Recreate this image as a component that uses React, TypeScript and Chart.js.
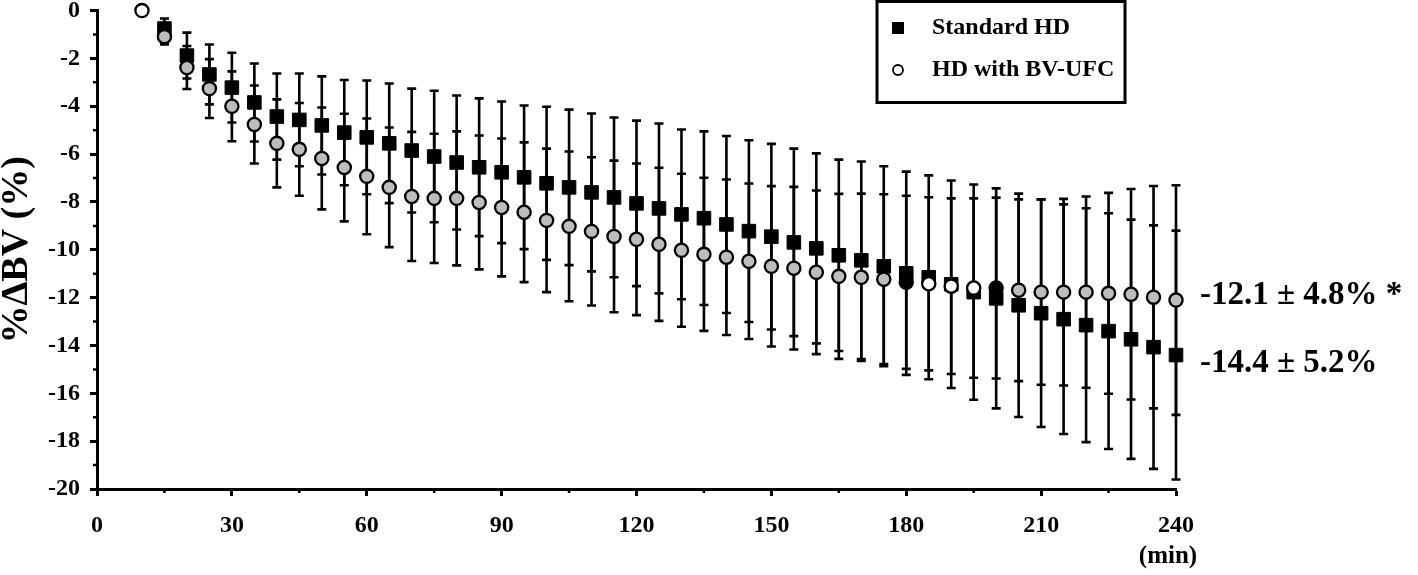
import React, { useEffect, useRef } from "react";
import { Chart, registerables } from "chart.js";

Chart.register(...registerables);

// ---- data ----
const timesStandard = [15, 20, 25, 30, 35, 40, 45, 50, 55, 60, 65, 70, 75, 80, 85, 90, 95, 100, 105, 110, 115, 120, 125, 130, 135, 140, 145, 150, 155, 160, 165, 170, 175, 180, 185, 190, 195, 200, 205, 210, 215, 220, 225, 230, 235, 240];
const meanStandard = [-0.75, -1.88, -2.67, -3.22, -3.84, -4.43, -4.57, -4.8, -5.1, -5.3, -5.55, -5.85, -6.1, -6.35, -6.55, -6.76, -6.97, -7.22, -7.39, -7.6, -7.81, -8.06, -8.27, -8.52, -8.68, -8.94, -9.22, -9.45, -9.69, -9.94, -10.23, -10.44, -10.69, -10.98, -11.15, -11.44, -11.77, -12.03, -12.32, -12.65, -12.9, -13.15, -13.4, -13.74, -14.07, -14.4];
const sdStandard = [0.42, 0.96, 1.25, 1.46, 1.63, 1.8, 1.94, 2.05, 2.2, 2.38, 2.5, 2.59, 2.75, 2.8, 2.88, 2.96, 3.0, 3.2, 3.25, 3.3, 3.34, 3.46, 3.55, 3.55, 3.63, 3.7, 3.8, 3.88, 3.92, 3.97, 4.0, 4.13, 4.18, 4.25, 4.26, 4.34, 4.5, 4.6, 4.67, 4.76, 4.8, 4.89, 4.93, 5.0, 5.09, 5.2];

const timesBVUFC = [10, 15, 20, 25, 30, 35, 40, 45, 50, 55, 60, 65, 70, 75, 80, 85, 90, 95, 100, 105, 110, 115, 120, 125, 130, 135, 140, 145, 150, 155, 160, 165, 170, 175, 180, 185, 190, 195, 200, 205, 210, 215, 220, 225, 230, 235, 240];
const meanBVUFC = [0, -1.09, -2.38, -3.26, -4.0, -4.76, -5.55, -5.8, -6.18, -6.56, -6.93, -7.39, -7.77, -7.85, -7.85, -8.02, -8.23, -8.43, -8.77, -9.02, -9.23, -9.44, -9.56, -9.77, -10.02, -10.19, -10.31, -10.48, -10.69, -10.77, -10.94, -11.11, -11.15, -11.23, -11.36, -11.42, -11.52, -11.6, -11.6, -11.69, -11.77, -11.77, -11.77, -11.82, -11.86, -11.98, -12.1];
const sdBVUFC = [0, 0.32, 0.9, 1.23, 1.46, 1.63, 1.84, 1.94, 2.13, 2.25, 2.42, 2.5, 2.7, 2.7, 2.8, 2.8, 2.88, 2.92, 3.0, 3.13, 3.1, 3.17, 3.17, 3.2, 3.2, 3.2, 3.25, 3.25, 3.35, 3.4, 3.42, 3.45, 3.5, 3.55, 3.62, 3.62, 3.67, 3.75, 3.78, 3.8, 3.87, 3.9, 4.0, 4.2, 4.4, 4.65, 4.8];

// marker fill exceptions in the BV-UFC series
const whiteMarkerTimes = [10, 185, 190, 195];
const blackMarkerTimes = [180, 200];

const xTickValues = [0, 30, 60, 90, 120, 150, 180, 210, 240];
const xMinorTickValues = [15, 45, 75, 105, 135, 165, 195, 225];
const yTickValues = [0, -2, -4, -6, -8, -10, -12, -14, -16, -18, -20];
const yMinorTickValues = [-1, -3, -5, -7, -9, -11, -13, -15, -17, -19];

const seriesNames = ["Standard HD", "HD with BV-UFC"];
const endLabels = ["-12.1 \u00b1 4.8% *", "-14.4 \u00b1 5.2%"];
const yTitle = "%\u0394BV (%)";
const xTitle = "(min)";

const SERIF = '"Liberation Serif", "Times New Roman", Times, serif';

export default function App() {
  const canvasRef = useRef<HTMLCanvasElement | null>(null);

  useEffect(() => {
    document.body.style.margin = "0";
    const canvas = canvasRef.current;
    if (!canvas) return;

    const bvFill = timesBVUFC.map((t) =>
      blackMarkerTimes.includes(t) ? "#000000" : whiteMarkerTimes.includes(t) ? "#ffffff" : "#bdbdbd"
    );

    const errorBarPlugin = {
      id: "errorBars",
      beforeDatasetsDraw(chart: any) {
        const { ctx } = chart;
        const xs = chart.scales.x;
        const ys = chart.scales.y;
        ctx.save();
        ctx.strokeStyle = "#000";
        ctx.lineWidth = 2.6;
        const draw = (times: number[], means: number[], sds: number[]) => {
          times.forEach((t, i) => {
            const sd = sds[i];
            if (!sd) return;
            const px = xs.getPixelForValue(t);
            const top = ys.getPixelForValue(means[i] + sd);
            const bot = ys.getPixelForValue(means[i] - sd);
            ctx.beginPath();
            ctx.moveTo(px, top);
            ctx.lineTo(px, bot);
            ctx.moveTo(px - 4.5, top);
            ctx.lineTo(px + 4.5, top);
            ctx.moveTo(px - 4.5, bot);
            ctx.lineTo(px + 4.5, bot);
            ctx.stroke();
          });
        };
        draw(timesStandard, meanStandard, sdStandard);
        draw(timesBVUFC, meanBVUFC, sdBVUFC);
        ctx.restore();
      },
    };

    const decorPlugin = {
      id: "decor",
      afterDraw(chart: any) {
        const { ctx, chartArea } = chart;
        const xs = chart.scales.x;
        const ys = chart.scales.y;
        ctx.save();
        // minor ticks
        ctx.strokeStyle = "#000";
        ctx.lineWidth = 2.5;
        ctx.beginPath();
        yMinorTickValues.forEach((v) => {
          const py = ys.getPixelForValue(v);
          ctx.moveTo(chartArea.left - 4, py);
          ctx.lineTo(chartArea.left, py);
        });
        xMinorTickValues.forEach((v) => {
          const px = xs.getPixelForValue(v);
          ctx.moveTo(px, chartArea.bottom);
          ctx.lineTo(px, chartArea.bottom + 4);
        });
        ctx.stroke();

        // y title
        ctx.fillStyle = "#000";
        ctx.save();
        ctx.translate(17, (chartArea.top + chartArea.bottom) / 2);
        ctx.rotate(-Math.PI / 2);
        ctx.font = `bold 38px ${SERIF}`;
        ctx.textAlign = "center";
        ctx.textBaseline = "middle";
        ctx.fillText(yTitle, 0, 0);
        ctx.restore();

        // x title
        ctx.font = `bold 25px ${SERIF}`;
        ctx.textAlign = "center";
        ctx.textBaseline = "middle";
        ctx.fillText(xTitle, xs.getPixelForValue(240) - 8, 557);

        // end labels
        ctx.font = `bold 33px ${SERIF}`;
        ctx.textAlign = "left";
        const xEnd = xs.getPixelForValue(240) + 24;
        ctx.fillText(endLabels[0], xEnd, ys.getPixelForValue(meanBVUFC[meanBVUFC.length - 1]) - 5);
        ctx.fillText(endLabels[1], xEnd, ys.getPixelForValue(meanStandard[meanStandard.length - 1]) + 8);

        // legend
        const bx = 877, by = 1.5, bw = 248, bh = 101;
        ctx.lineWidth = 3;
        ctx.strokeRect(bx, by, bw, bh);
        ctx.fillRect(bx + 15, 22, 12, 12);
        ctx.beginPath();
        ctx.arc(bx + 21, 70, 5, 0, Math.PI * 2);
        ctx.fillStyle = "#fff";
        ctx.fill();
        ctx.lineWidth = 1.8;
        ctx.stroke();
        ctx.fillStyle = "#000";
        ctx.font = `bold 24px ${SERIF}`;
        ctx.textAlign = "left";
        ctx.textBaseline = "middle";
        ctx.fillText(seriesNames[0], bx + 55, 28);
        ctx.fillText(seriesNames[1], bx + 55, 70);
        ctx.restore();
      },
    };

    const chart = new Chart(canvas, {
      type: "scatter",
      data: {
        datasets: [
          {
            label: seriesNames[1],
            data: timesBVUFC.map((t, i) => ({ x: t, y: meanBVUFC[i] })),
            pointStyle: "circle",
            pointRadius: 6.6,
            pointHoverRadius: 6.6,
            pointBackgroundColor: bvFill,
            pointBorderColor: "#000",
            pointBorderWidth: 2.3,
            showLine: false,
            clip: false,
          } as any,
          {
            label: seriesNames[0],
            data: timesStandard.map((t, i) => ({ x: t, y: meanStandard[i] })),
            pointStyle: "rect",
            pointRadius: 9.6,
            pointHoverRadius: 9.6,
            pointBackgroundColor: "#000",
            pointBorderColor: "#000",
            pointBorderWidth: 1,
            showLine: false,
            clip: false,
          } as any,
        ],
      },
      options: {
        animation: false,
        responsive: false,
        maintainAspectRatio: false,
        events: [],
        layout: { padding: { top: 10, right: 242, bottom: 0, left: 0 } },
        plugins: { legend: { display: false }, tooltip: { enabled: false }, title: { display: false } },
        scales: {
          x: {
            type: "linear",
            min: 0,
            max: 240,
            afterBuildTicks: (scale: any) => {
              scale.ticks = xTickValues.map((v) => ({ value: v }));
            },
            afterFit: (scale: any) => {
              scale.height = 86;
              scale.paddingLeft = 0;
              scale.paddingRight = 0;
            },
            grid: { drawOnChartArea: false, drawTicks: true, tickLength: 7, tickWidth: 3, tickColor: "#000" },
            border: { display: true, width: 3, color: "#000" },
            ticks: {
              color: "#000",
              padding: 15,
              maxRotation: 0,
              autoSkip: false,
              font: { family: SERIF, size: 24, weight: "bold" },
              callback: (v: any) => String(v),
            },
          },
          y: {
            type: "linear",
            min: -20,
            max: 0,
            afterBuildTicks: (scale: any) => {
              scale.ticks = yTickValues.map((v) => ({ value: v }));
            },
            afterFit: (scale: any) => {
              scale.width = 97;
              scale.paddingTop = 0;
              scale.paddingBottom = 0;
            },
            grid: { drawOnChartArea: false, drawTicks: true, tickLength: 7, tickWidth: 3, tickColor: "#000" },
            border: { display: true, width: 3, color: "#000" },
            ticks: {
              color: "#000",
              padding: 10,
              autoSkip: false,
              font: { family: SERIF, size: 24, weight: "bold" },
              callback: (v: any) => String(v),
            },
          },
        },
      } as any,
      plugins: [errorBarPlugin, decorPlugin],
    });

    return () => chart.destroy();
  }, []);

  return (
    <div style={{ width: 1418, height: 575, position: "relative" }}>
      <canvas ref={canvasRef} width={1418} height={575} style={{ display: "block", width: 1418, height: 575 }} />
    </div>
  );
}
